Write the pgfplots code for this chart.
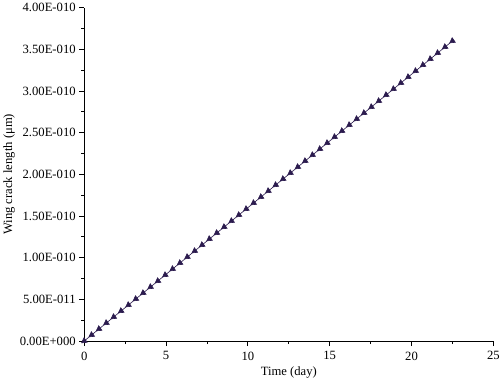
\documentclass[border=0pt]{standalone}
\usepackage{pgfplots}
\pgfplotsset{compat=1.18}
\usepackage{fontspec}
\setmainfont{Liberation Serif}
\definecolor{ln}{HTML}{2B1B4E}
\begin{document}
\begin{tikzpicture}
\begin{axis}[
  scale only axis, width=405pt, height=330pt,
  xmin=0, xmax=25, ymin=0, ymax=4e-10,
  axis lines=left, axis line style={-, thick},
  tick align=outside, major tick length=5pt, minor tick length=3pt,
  every tick/.style={black, thick},
  xtick={0,5,10,15,20,25}, minor x tick num=1,
  ytick={0,5e-11,1e-10,1.5e-10,2e-10,2.5e-10,3e-10,3.5e-10,4e-10},
  yticklabels={0.00E+000,5.00E-011,1.00E-010,1.50E-010,2.00E-010,2.50E-010,3.00E-010,3.50E-010,4.00E-010},
  minor y tick num=1,
  scaled y ticks=false,
  /pgf/number format/assume math mode=true,
  tick label style={font=\fontsize{12.5}{14}\selectfont},
  label style={font=\fontsize{12.5}{14}\selectfont},
  xticklabel style={yshift=-2pt},
  xlabel={Time (day)}, ylabel={Wing crack length (μm)},
  ylabel style={yshift=-2pt},
  clip=false,
]
\addplot[ln, semithick, mark=triangle*, mark size=3.2pt, mark options={rotate=125, fill=ln}] coordinates {
(0,0) (0.45,7.2e-12) (0.9,1.44e-11) (1.35,2.16e-11) (1.8,2.88e-11) (2.25,3.6e-11)
(2.7,4.32e-11) (3.15,5.04e-11) (3.6,5.76e-11) (4.05,6.48e-11) (4.5,7.2e-11)
(4.95,7.92e-11) (5.4,8.64e-11) (5.85,9.36e-11) (6.3,1.008e-10) (6.75,1.08e-10)
(7.2,1.152e-10) (7.65,1.224e-10) (8.1,1.296e-10) (8.55,1.368e-10) (9.0,1.44e-10)
(9.45,1.512e-10) (9.9,1.584e-10) (10.35,1.656e-10) (10.8,1.728e-10) (11.25,1.8e-10)
(11.7,1.872e-10) (12.15,1.944e-10) (12.6,2.016e-10) (13.05,2.088e-10) (13.5,2.16e-10)
(13.95,2.232e-10) (14.4,2.304e-10) (14.85,2.376e-10) (15.3,2.448e-10) (15.75,2.52e-10)
(16.2,2.592e-10) (16.65,2.664e-10) (17.1,2.736e-10) (17.55,2.808e-10) (18.0,2.88e-10)
(18.45,2.952e-10) (18.9,3.024e-10) (19.35,3.096e-10) (19.8,3.168e-10) (20.25,3.24e-10)
(20.7,3.312e-10) (21.15,3.384e-10) (21.6,3.456e-10) (22.05,3.528e-10) (22.5,3.6e-10)
};
\end{axis}
\end{tikzpicture}
\end{document}
